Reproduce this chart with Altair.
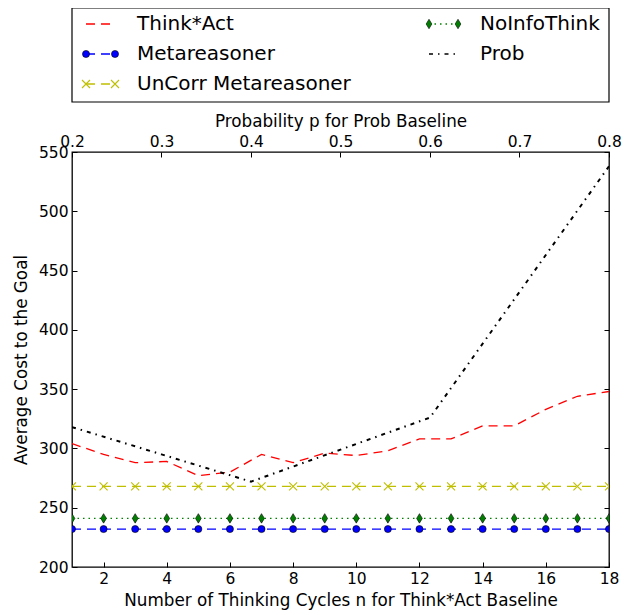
import altair as alt
import pandas as pd

# ---- data ----
n_values = [1, 2, 3, 4, 5, 6, 7, 8, 9, 10, 11, 12, 13, 14, 15, 16, 17, 18]
think_act = [304, 295, 288, 289, 277, 280, 295, 288, 296, 294, 298, 308, 308, 319, 319, 333, 344, 348]
metareasoner = [232, 232, 232, 232, 232, 232, 232, 232, 232, 232, 232, 232, 232, 232, 232, 232, 232, 232]
uncorr_metareasoner = [268, 268, 268, 268, 268, 268, 268, 268, 268, 268, 268, 268, 268, 268, 268, 268, 268, 268]
noinfo_think = [241, 241, 241, 241, 241, 241, 241, 241, 241, 241, 241, 241, 241, 241, 241, 241, 241, 241]

prob_p = [0.2, 0.3, 0.4, 0.5, 0.6, 0.7, 0.8]
prob_cost = [318, 295, 272, 299, 326, 432, 538]

series_names = ["Think*Act", "Metareasoner", "UnCorr Metareasoner", "NoInfoThink", "Prob"]
series_colors = ["#ff0000", "#0000ff", "#bfbf00", "#008000", "#000000"]
series_dashes = [[9, 6], [9, 6], [9, 6], [1.5, 4], [4, 5, 1.5, 5]]

y_ticks = [200, 250, 300, 350, 400, 450, 500, 550]
x_ticks = [2, 4, 6, 8, 10, 12, 14, 16, 18]
p_ticks = [0.2, 0.3, 0.4, 0.5, 0.6, 0.7, 0.8]

FONT = "DejaVu Sans"

# ---- tables ----
main_df = pd.concat([
    pd.DataFrame({"n": n_values, "value": think_act, "series": "Think*Act"}),
    pd.DataFrame({"n": n_values, "value": metareasoner, "series": "Metareasoner"}),
    pd.DataFrame({"n": n_values, "value": uncorr_metareasoner, "series": "UnCorr Metareasoner"}),
    pd.DataFrame({"n": n_values, "value": noinfo_think, "series": "NoInfoThink"}),
], ignore_index=True)
prob_df = pd.DataFrame({"p": prob_p, "value": prob_cost, "series": "Prob"})
legend_df = pd.DataFrame({
    "series": series_names,
    "col": [i // 3 for i in range(len(series_names))],
    "row": [i % 3 for i in range(len(series_names))],
})

color_scale = alt.Scale(domain=series_names, range=series_colors)
dash_scale = alt.Scale(domain=series_names, range=series_dashes)

markers = {
    "Metareasoner": dict(shape="circle", size=50, filled=True, fill="#0000ff",
                         stroke="black", strokeWidth=0.6),
    "UnCorr Metareasoner": dict(shape="M-1,-1L1,1M-1,1L1,-1", size=64, filled=False,
                                stroke="#bfbf00", strokeWidth=1.1),
    "NoInfoThink": dict(shape="M0,-1L0.6,0L0,1L-0.6,0Z", size=90, filled=True,
                        fill="#008000", stroke="black", strokeWidth=0.6),
}

# ---- scales & axes ----
y_scale = alt.Scale(domain=[200, 550], nice=False, zero=False)
x_scale = alt.Scale(domain=[1, 18], nice=False, zero=False)
p_scale = alt.Scale(domain=[0.2, 0.8], nice=False, zero=False)

y_axis_left = alt.Axis(orient="left", values=y_ticks, offset=-5, tickSize=5, labelPadding=4,
                       labelFlush=False, title="Average Cost to the Goal", titlePadding=8,
                       format="d")
y_axis_right = alt.Axis(orient="right", values=y_ticks, offset=-5, tickSize=5, labels=False,
                        title=None)
x_axis_bottom = alt.Axis(orient="bottom", values=x_ticks, offset=-5, tickSize=5, labelPadding=4,
                         labelFlush=False,
                         title="Number of Thinking Cycles n for Think*Act Baseline",
                         titlePadding=6, format="d")
p_axis_top = alt.Axis(orient="top", values=p_ticks, offset=-5, tickSize=5, labelPadding=3,
                      labelFlush=False, labelOverlap=False,
                      title="Probability p for Prob Baseline", titlePadding=4, format=".1f")

X = alt.X("n:Q", scale=x_scale, axis=x_axis_bottom)
Y = alt.Y("value:Q", scale=y_scale, axis=y_axis_left)

lines = alt.Chart(main_df).mark_line(strokeWidth=1.3, clip=True).encode(
    x=X, y=Y,
    color=alt.Color("series:N", scale=color_scale, legend=None),
    strokeDash=alt.StrokeDash("series:N", scale=dash_scale, legend=None),
)

point_layers = []
for name, m in markers.items():
    point_layers.append(
        alt.Chart(main_df).transform_filter(alt.datum.series == name)
        .mark_point(opacity=1, clip=True, **m)
        .encode(x=X, y=Y)
    )

n_block = alt.layer(lines, *point_layers)

prob_line = alt.Chart(prob_df).mark_line(color="black", strokeDash=[4, 5, 1.5, 5],
                                         strokeWidth=2, clip=True).encode(
    x=alt.X("p:Q", scale=p_scale, axis=p_axis_top),
    y=alt.Y("value:Q", scale=y_scale, axis=y_axis_right),
)

main_block = alt.layer(n_block, prob_line).resolve_scale(x="independent").resolve_axis(y="independent")

# ---- legend drawn as its own layer ----
LX = alt.X("col:Q", scale=alt.Scale(domain=[0, 1], range=[14, 357]), axis=None)
LY = alt.Y("row:Q", scale=alt.Scale(domain=[0, 2], range=[-128, -68]), axis=None)

leg_box = alt.Chart(alt.Data(values=[{"k": 1}])).mark_rect(
    fill="white", fillOpacity=0, stroke="black", strokeWidth=1.2
).encode(x=alt.value(0), x2=alt.value(537), y=alt.value(-144), y2=alt.value(-50))

leg_lines = alt.Chart(legend_df).mark_rule(x2Offset=29, strokeWidth=1.3).encode(
    x=LX, x2=alt.X2("col:Q"), y=LY,
    color=alt.Color("series:N", scale=color_scale, legend=None),
    strokeDash=alt.StrokeDash("series:N", scale=dash_scale, legend=None),
)
leg_marks = []
for name, m in markers.items():
    for off in (0, 29):
        leg_marks.append(
            alt.Chart(legend_df).transform_filter(alt.datum.series == name)
            .mark_point(opacity=1, xOffset=off, **m)
            .encode(x=LX, y=LY)
        )
leg_text = alt.Chart(legend_df).mark_text(
    align="left", baseline="middle", dx=51, fontSize=20, font=FONT, color="black"
).encode(x=LX, y=LY, text="series:N")

legend_block = alt.layer(leg_box, leg_lines, *leg_marks, leg_text)

chart = alt.layer(main_block, legend_block).resolve_scale(
    x="independent", y="independent"
).properties(
    width=537, height=415,
    autosize=alt.AutoSizeParams(type="none"),
    padding={"left": 64, "top": 144, "right": 16, "bottom": 46},
).configure_axis(
    labelFont=FONT, titleFont=FONT, labelFontSize=15.5, titleFontSize=16.8,
    titleFontWeight="normal", labelColor="black", titleColor="black",
    tickColor="black", tickWidth=1, domain=False, grid=False,
).configure_view(stroke="black", strokeWidth=1.3)

chart.save("out.html", embed_options={"renderer": "svg", "actions": False})
